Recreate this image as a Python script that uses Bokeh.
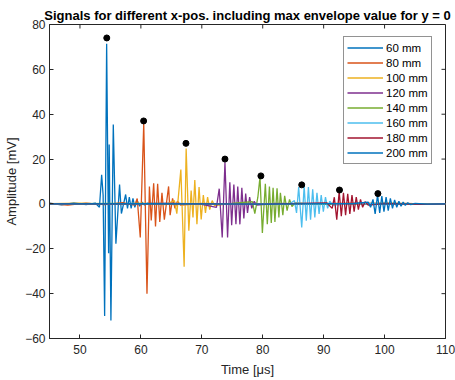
import math
from bokeh.plotting import figure
from bokeh.models import Range1d, Legend, LegendItem, FixedTicker
from bokeh.embed import file_html
from bokeh.resources import INLINE

labels = ["60 mm", "80 mm", "100 mm", "120 mm", "140 mm", "160 mm", "180 mm", "200 mm"]
colors = ["#0072BD", "#D95319", "#EDB120", "#7E2F8E", "#77AC30", "#4DBEEE", "#A2142F", "#0072BD"]

t_60 = [45, 47, 49, 51, 52.5, 53.2, 53.56, 53.8, 54.05, 54.38, 54.7, 54.8, 55.08, 55.47, 55.9, 56.5, 56.8, 57.5,
        57.8, 58.1, 58.4, 58.7, 59.0, 59.4, 59.8, 60.2, 60.6, 61.0, 65, 75, 90, 110]
v_60 = [0.3, -0.4, 0.5, -0.3, 0.4, -1.5, 13, 4, -50, 71.4, -22, 26.5, -52, 35.4, -17.7, 8.6, -4.3, 4.2,
        -2, 3, -2, 2.5, -1.5, 1.5, -1, 0.8, -0.5, 0.3, 0.2, -0.1, 0.1, 0]

t_80 = [45, 48, 51, 54, 57, 59.0, 59.4, 59.9, 60.47, 61.0, 61.4, 61.7, 62.1, 62.4, 62.75, 63.1, 63.46, 63.85,
        64.55, 64.8, 65.2, 65.6, 66.0, 66.5, 70, 80, 95, 110]
v_80 = [0.2, -0.5, 0.4, -0.3, 0.6, -0.5, 2.4, -15, 35.8, -40, 7.8, -7.4, 9.2, -10, 9, -8, 5, -7,
        7.8, -5, 2.5, -2, 1.2, -0.5, 0.2, -0.2, 0.3, 0]

t_100 = [45, 50, 55, 60, 64, 65.5, 65.9, 66.56, 67.1, 67.43, 67.87, 68.25, 68.55, 68.85, 69.2, 69.55, 69.9,
         70.25, 70.6, 70.95, 71.3, 71.7, 72.1, 75, 85, 100, 110]
v_100 = [0.1, 0.3, -0.2, 0.3, -0.3, 1.5, -4.3, 15.3, -28, 24.7, -11.9, 6, -6, 10.7, -9, 7.5, -6.9,
         4, -4, 3, -2.5, 1.5, -0.8, 0.2, -0.2, 0.2, 0]

t_120 = [45, 55, 65, 70, 72.4, 72.86, 73.35, 73.8, 74.23, 74.6, 74.9, 75.26, 75.6, 75.9, 76.25, 76.57, 76.9,
         77.2, 77.5, 77.85, 78.2, 78.6, 79.0, 82, 95, 110]
v_120 = [0.1, -0.2, 0.2, -0.2, -1.5, 6.8, -15, 18.6, -15, 9.7, -9.5, 8.6, -9, 7.8, -9.1, 7.2, -6.5,
         4.6, -4, 3, -2, 1.2, -0.5, 0.2, -0.1, 0]

t_140 = [45, 55, 65, 75, 78.3, 78.7, 79.2, 79.55, 79.94, 80.43, 80.75, 81.1, 81.4, 81.7, 82.0, 82.35, 82.65,
         82.9, 83.3, 83.6, 84.0, 84.4, 84.8, 85.3, 90, 100, 110]
v_140 = [0, 0.2, -0.2, 0.2, 1, -4.3, 3, 12, -13, 9, -9, 7.8, -8.5, 7.2, -8, 7, -6,
         5, -5, 3.6, -3, 2, -1.2, 0.5, -0.2, 0.2, 0]

t_160 = [45, 60, 75, 84.5, 85.2, 85.55, 85.9, 86.4, 86.8, 87.15, 87.5, 87.85, 88.2, 88.55, 88.9, 89.25,
         89.6, 89.95, 90.3, 90.65, 91.0, 91.5, 95, 105, 110]
v_160 = [0, 0.1, -0.1, 0.2, 1.5, -4, 7.5, -10.5, 8, -7.5, 7.5, -7, 6.5, -6, 5, -4.5,
         4, -3.5, 3, -2, 1.2, -0.5, 0.2, -0.1, 0]

t_180 = [45, 60, 80, 90.5, 91.4, 91.75, 92.15, 92.55, 92.9, 93.25, 93.6, 93.95, 94.3, 94.65, 95.0, 95.35,
         95.7, 96.05, 96.4, 96.8, 97.3, 100, 106, 110]
v_180 = [0, 0.1, -0.1, 0.5, -2, 3, -7, 5.5, -5.5, 5, -5, 4.5, -4.5, 4, -3.5, 3,
         -2.5, 2, -1.5, 1, -0.5, 0.2, -0.2, 0]

t_200 = [45, 60, 80, 95, 97.3, 97.7, 98.1, 98.45, 98.85, 99.2, 99.55, 99.9, 100.25, 100.6, 100.95, 101.3,
         101.65, 102.0, 102.35, 102.7, 103.05, 103.4, 103.8, 104.3, 105, 107, 110]
v_200 = [0, 0.1, -0.1, 0.2, 0.8, -1.5, 2, -4.5, 4, -4, 3.5, -3.5, 3, -3, 2.5, -2,
         1.8, -1.5, 1.2, -1, 0.8, -0.6, 0.5, -0.3, 0.2, -0.1, 0]

peak_t = [54.4, 60.45, 67.4, 73.8, 79.7, 86.4, 92.6, 98.9]
peak_v = [74, 37, 27, 20, 12.5, 8.5, 6.2, 4.6]

x_ticks = [50, 60, 70, 80, 90, 100, 110]
y_ticks = [-60, -40, -20, 0, 20, 40, 60, 80]
x_min, x_max = 45, 110
y_min, y_max = -60, 80

series_t = [t_60, t_80, t_100, t_120, t_140, t_160, t_180, t_200]
series_v = [v_60, v_80, v_100, v_120, v_140, v_160, v_180, v_200]

FONT = "Liberation Sans"
DARK = "#262626"

p = figure(width=455, height=380, output_backend="svg", toolbar_location=None,
           x_range=Range1d(x_min, x_max), y_range=Range1d(y_min, y_max),
           min_border_left=49, min_border_right=10, min_border_top=24, min_border_bottom=42)

p.title.text = "Signals for different x-pos. including max envelope value for y = 0"
p.title.text_font = FONT
p.title.text_font_size = "13px"
p.title.text_font_style = "bold"
p.title.text_color = "#000000"
p.title.align = "center"
p.title.standoff = 3

p.xgrid.visible = False
p.ygrid.visible = False
p.outline_line_color = DARK
p.outline_line_width = 1

for ax in [p.xaxis[0], p.yaxis[0]]:
    ax.major_tick_in = 4
    ax.major_tick_out = 0
    ax.minor_tick_in = 0
    ax.minor_tick_out = 0
    ax.axis_line_color = DARK
    ax.major_tick_line_color = DARK
    ax.major_label_text_color = DARK
    ax.major_label_text_font = FONT
    ax.major_label_text_font_size = "12px"
    ax.axis_label_text_font = FONT
    ax.axis_label_text_font_size = "13px"
    ax.axis_label_text_font_style = "normal"
    ax.axis_label_text_color = DARK

p.xaxis.ticker = FixedTicker(ticks=x_ticks)
p.yaxis.ticker = FixedTicker(ticks=y_ticks)
p.xaxis.axis_label = "Time [μs]"
p.yaxis.axis_label = "Amplitude [mV]"
p.xaxis.major_label_standoff = 6
p.yaxis.major_label_standoff = 4
p.xaxis.axis_label_standoff = 5
p.yaxis.axis_label_standoff = 3

# inward tick marks on the right and top edges of the box
p.ray(x=[x_max] * len(y_ticks), y=y_ticks, length=4, length_units="screen",
      angle=math.pi, line_color=DARK, line_width=1)
p.ray(x=x_ticks, y=[y_max] * len(x_ticks), length=4, length_units="screen",
      angle=-math.pi / 2, line_color=DARK, line_width=1)

items = []
for lab, col, tt, vv in zip(labels, colors, series_t, series_v):
    r = p.line(tt, vv, line_color=col, line_width=1.3)
    items.append(LegendItem(label=lab, renderers=[r]))

p.scatter(peak_t, peak_v, size=6, color="black")

leg = Legend(items=items, location=(294, 174), orientation="vertical")
leg.label_text_font = FONT
leg.label_text_font_size = "11.5px"
leg.label_text_color = "#000000"
leg.label_height = 15
leg.glyph_height = 15
leg.glyph_width = 36
leg.label_standoff = 3
leg.spacing = 0
leg.padding = 3
leg.margin = 0
leg.border_line_color = DARK
leg.border_line_width = 1
leg.background_fill_alpha = 1
p.add_layout(leg, "center")

open("out.html", "w").write(file_html(p, INLINE))
